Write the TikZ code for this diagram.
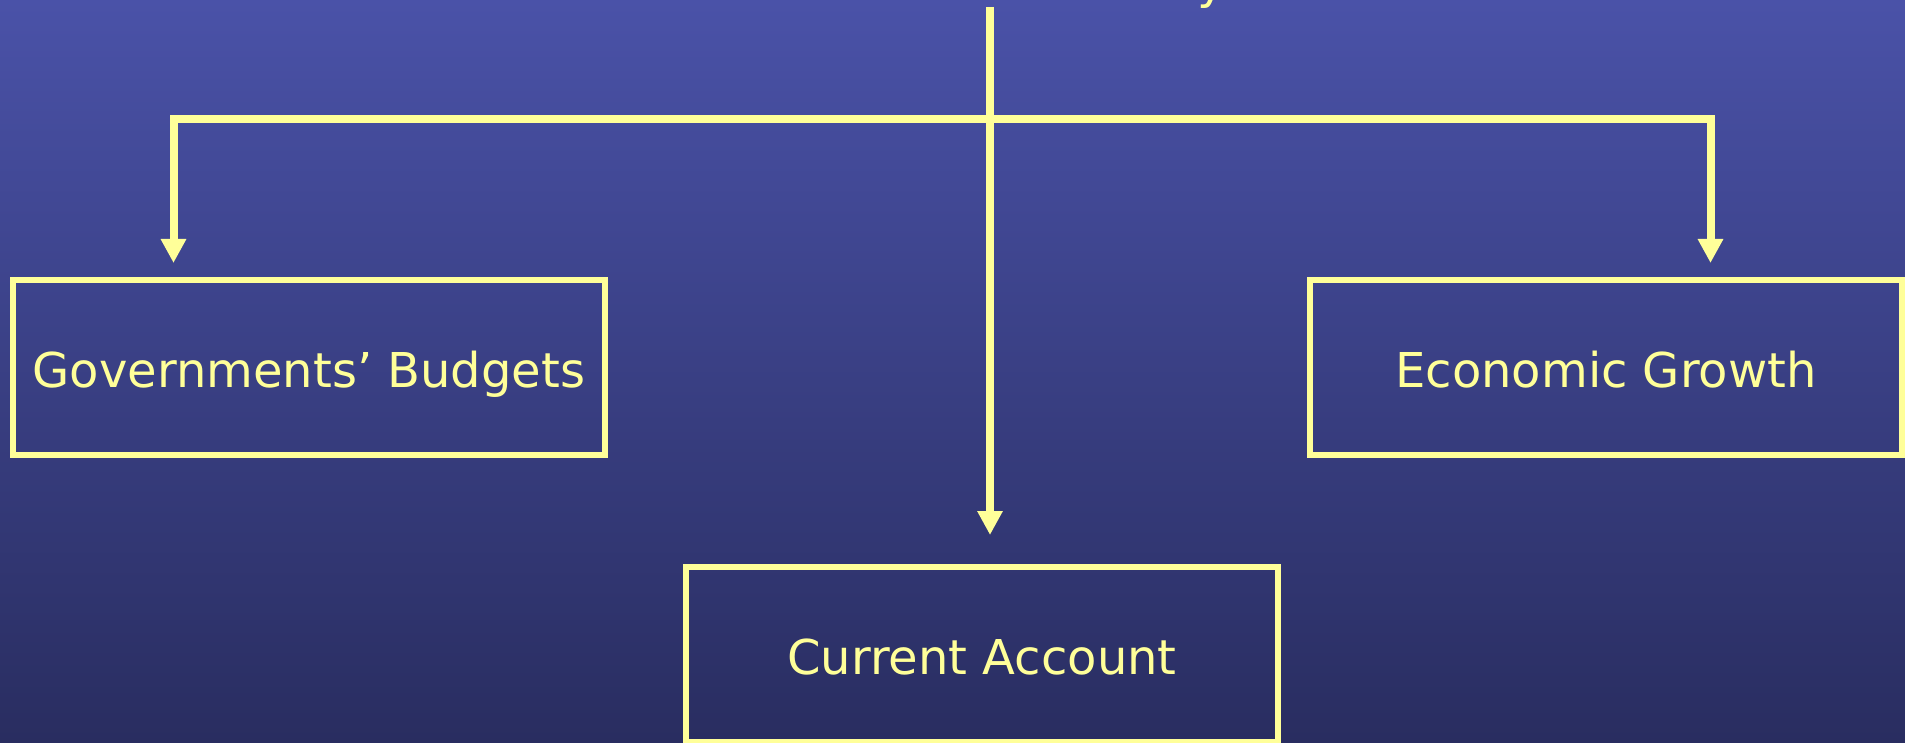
\documentclass[tikz,border=0pt]{standalone}
\usepackage{fontspec}
\setmainfont{DejaVu Sans}
\usetikzlibrary{arrows.meta}
\definecolor{bgtop}{RGB}{74,82,168}
\definecolor{bgbot}{RGB}{41,45,96}
\definecolor{pale}{RGB}{255,255,153}
\tikzset{
  box/.style={draw=pale, line width=6pt, minimum width=592pt, minimum height=175pt,
    inner sep=0pt, text height=39pt, text depth=0pt, text=pale,
    font=\fontsize{48}{58}\selectfont},
  link/.style={draw=pale, line width=8pt, line join=miter},
  arr/.style={link, -{Triangle[width=24pt,length=24pt]}}
}
\begin{document}
\begin{tikzpicture}[x=1pt,y=-1pt]
  % backdrop
  \shade[top color=bgtop, bottom color=bgbot] (0,0) rectangle (1905,743);
  \useasboundingbox (0,0) rectangle (1905,743);
  \begin{scope}
    \clip (0,0) rectangle (1905,743);
    % tail of the heading above the frame
    \node[anchor=base west, inner sep=0pt, text=pale, font=\fontsize{48}{58}\selectfont]
      (head) at (1197,-1) {y};
  \end{scope}

  % the three outcome boxes
  \node[box] (gb) at (309,367.5) {Governments’ Budgets};
  \node[box] (eg) at (1606,367.5) {Economic Growth};
  \node[box] (ca) at (982,654.5) {Current Account};

  % connector points
  \coordinate (top) at (990,7);
  \coordinate (hub) at (990,119);
  \coordinate (lcol) at (173.5,200);
  \coordinate (rcol) at (1710.5,200);

  % trunk down to the current account
  \draw[arr, shorten >=29pt] (top) -- (top |- ca.north);
  % branches to the side boxes
  \draw[arr, shorten >=14pt] (hub) -| (lcol |- gb.north);
  \draw[arr, shorten >=14pt] (hub) -| (rcol |- eg.north);
\end{tikzpicture}
\end{document}
